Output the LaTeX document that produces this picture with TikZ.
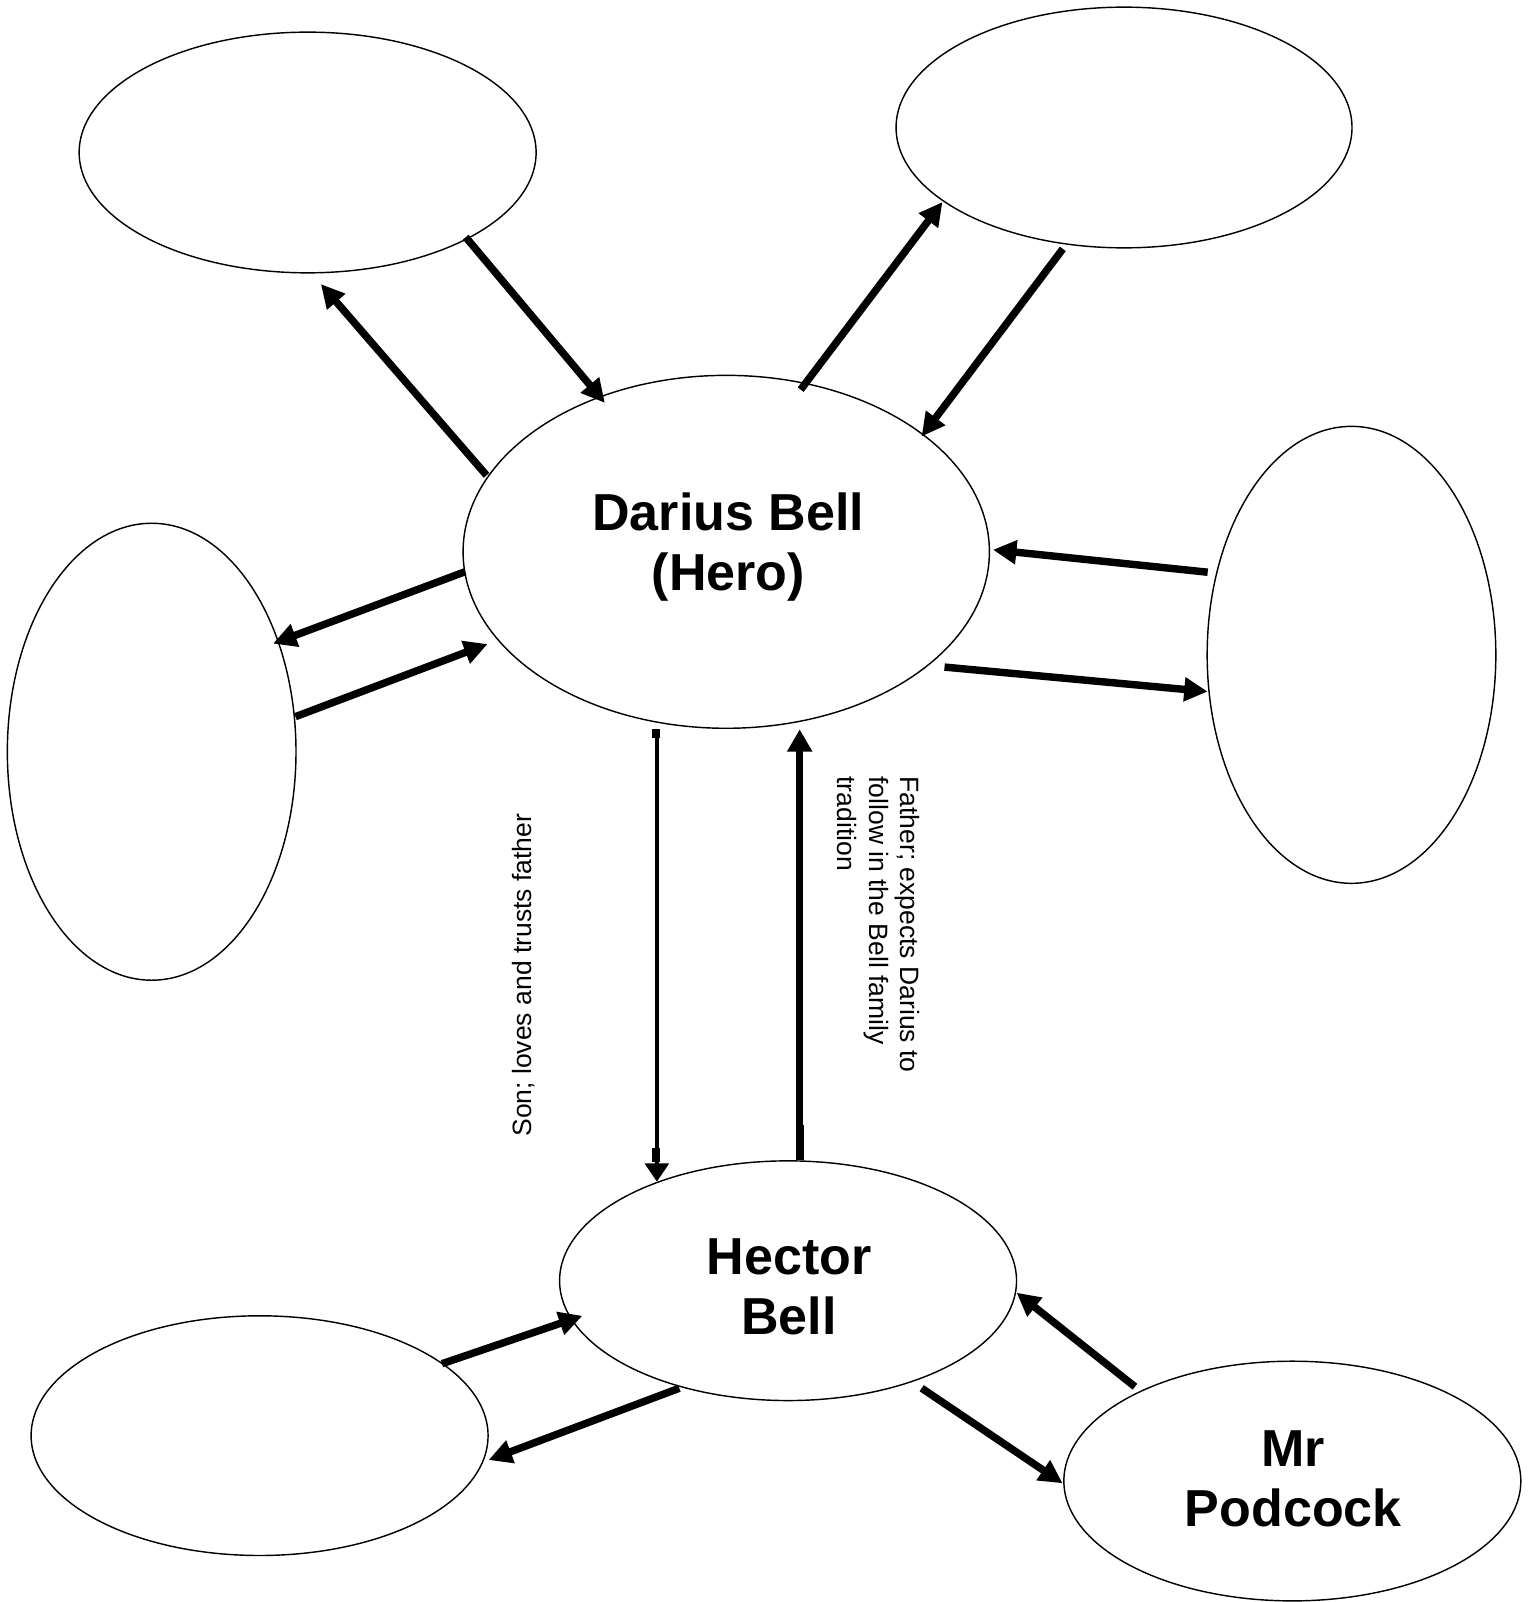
\documentclass[tikz,border=0pt]{standalone}
\usepackage{fontspec}
\setmainfont{Liberation Sans}
\usetikzlibrary{arrows.meta,calc,shapes.geometric}
\begin{document}
\begin{tikzpicture}[x=1pt,y=-1pt,
  oval/.style={ellipse, draw, line width=1.4pt, inner sep=0pt},
  arr/.style={line width=7.3pt, -{Triangle[length=23pt,width=22.5pt]}},
  thinarr/.style={line width=4.2pt, -{Triangle[length=18pt,width=23pt]}},
  medarr/.style={line width=6.8pt, -{Triangle[length=22pt,width=23.5pt]}},
  stub/.style={line width=8pt},
  big/.style={font=\fontsize{51}{59}\selectfont\bfseries, align=center, inner sep=0pt},
  small/.style={font=\fontsize{26}{31}\selectfont, inner sep=0pt},
]
\useasboundingbox (0,0) rectangle (1500,1570.6);

% ellipses
\node[oval, minimum width=448pt, minimum height=236pt] (TL) at (301.6,149.5) {};
\node[oval, minimum width=447pt, minimum height=236pt] (TR) at (1102,125) {};
\node[oval, minimum width=516pt, minimum height=346pt] (DB) at (712,541) {};
\node[oval, minimum width=283pt, minimum height=448pt] (LE) at (148.7,737) {};
\node[oval, minimum width=283pt, minimum height=448pt] (RE) at (1325,642) {};
\node[oval, minimum width=448pt, minimum height=235pt] (HB) at (772.6,1255.6) {};
\node[oval, minimum width=448pt, minimum height=235pt] (BL) at (254.5,1407.5) {};
\node[oval, minimum width=448pt, minimum height=235pt] (MP) at (1267,1452) {};

% texts
\node[big] (DBt) at ($(DB)+(2,-4.8)$) {Darius Bell\\(Hero)};
\node[big] (HBt) at ($(HB)+(1,6)$) {Hector\\Bell};
\node[big] (MPt) at ($(MP)+(1,-2)$) {Mr\\Podcock};

\node[small, rotate=90] (son) at (513.5,956) {Son; loves and trusts father};
\node[small, rotate=-90, anchor=north west, align=left] (fat) at (902,761)
  {Father; expects Darius to\\follow in the Bell family\\tradition};

% arrows
\draw[arr] ($(TL)+(155,83)$) -- ($(DB)+(-119,-146)$);
\draw[arr] ($(DB)+(-235,-75)$) -- ($(TL)+(13,129)$);
\draw[arr] ($(DB)+(73,-159)$) -- ($(TR)+(-178,73)$);
\draw[arr] ($(TR)+(-60,119)$) -- ($(DB)+(191.5,-113)$);
\draw[arr] ($(RE)+(-141,-81)$) -- ($(DB)+(261.5,-2)$);
\draw[arr] ($(DB)+(214,113)$) -- ($(RE)+(-141,36)$);
\draw[arr] ($(DB)+(-256,19.5)$) -- ($(LE)+(119,-106)$);
\draw[arr] ($(LE)+(141,-34.4)$) -- ($(DB)+(-234,90.4)$);
\draw[arr] ($(BL)+(178.8,-70.5)$) -- ($(HB)+(-201.6,34.4)$);
\draw[arr] ($(HB)+(-106.6,105.4)$) -- ($(BL)+(224.5,23.9)$);
\draw[arr] ($(MP)+(-154.3,-92.5)$) -- ($(HB)+(224,11.7)$);
\draw[arr] ($(HB)+(131,105.4)$) -- ($(MP)+(-225.2,2.2)$);

% vertical arrows between Darius and Hector
\draw[thinarr] ($(DB)+(-68,174)$) -- ($(HB)+(-128.6,-97)$);
\draw[stub] ($(DB)+(-69,174)$) -- ($(DB)+(-69,182.5)$);
\draw[stub] ($(HB)+(-129.3,-130.1)$) -- ($(HB)+(-129.3,-116.6)$);
\draw[medarr] ($(HB)+(11.4,-118.6)$) -- ($(DB)+(72,174)$);
\draw[stub] ($(HB)+(11.7,-118.6)$) -- ($(HB)+(11.7,-152.6)$);
\end{tikzpicture}
\end{document}
